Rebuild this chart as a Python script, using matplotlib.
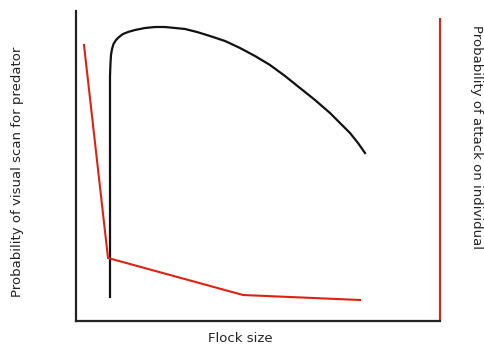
import matplotlib
matplotlib.use('Agg')
import matplotlib.pyplot as plt

# curve data (schematic units)
vigil_x = [34, 34, 34.5, 35, 36, 37.5, 40, 43, 47, 52, 59, 69, 79, 89, 99, 109, 121, 134, 149, 164, 179, 194, 209, 224, 239, 254, 264, 274, 282, 289]
vigil_y = [24, 245, 258, 266, 272, 277, 281, 284, 287, 289, 291, 293, 294, 294, 293, 292, 289, 285, 280, 273, 265, 256, 245, 233, 221, 208, 198, 188, 178, 168]
attack_x = [8, 32, 167, 284]
attack_y = [276, 63, 26, 21]

xlabel = 'Flock size'
ylabel_left = 'Probability of visual scan for predator'
ylabel_right = 'Probability of attack on individual'

W, H = 484, 345
fig = plt.figure(figsize=(W / 100, H / 100), dpi=100)
ax = fig.add_axes([76 / W, (H - 321) / H, 364 / W, 310 / H])
ax.set_xlim(0, 364)
ax.set_ylim(0, 310)

ax.plot(vigil_x, vigil_y, color='#111111', lw=1.6, solid_joinstyle='round')
ax.plot(attack_x, attack_y, color='#dd2211', lw=1.5, solid_joinstyle='round')

ax.set_xticks([])
ax.set_yticks([])
ax.spines['top'].set_visible(False)
for s in ['left', 'bottom']:
    ax.spines[s].set_linewidth(1.6)
    ax.spines[s].set_color('#222222')
ax.spines['right'].set_color('#dd2211')
ax.spines['right'].set_linewidth(1.5)
ax.spines['right'].set_bounds(0, 302)

fig.text(240 / W, 1 - 338 / H, xlabel, ha='center', va='center', fontsize=9.5, color='#222222')
fig.text(18 / W, 1 - 172 / H, ylabel_left, ha='center', va='center', rotation=90, fontsize=9.5, color='#222222')
fig.text(476 / W, 1 - 137 / H, ylabel_right, ha='center', va='center', rotation=270, fontsize=9.5, color='#222222')

fig.savefig('out.png', dpi=100)
